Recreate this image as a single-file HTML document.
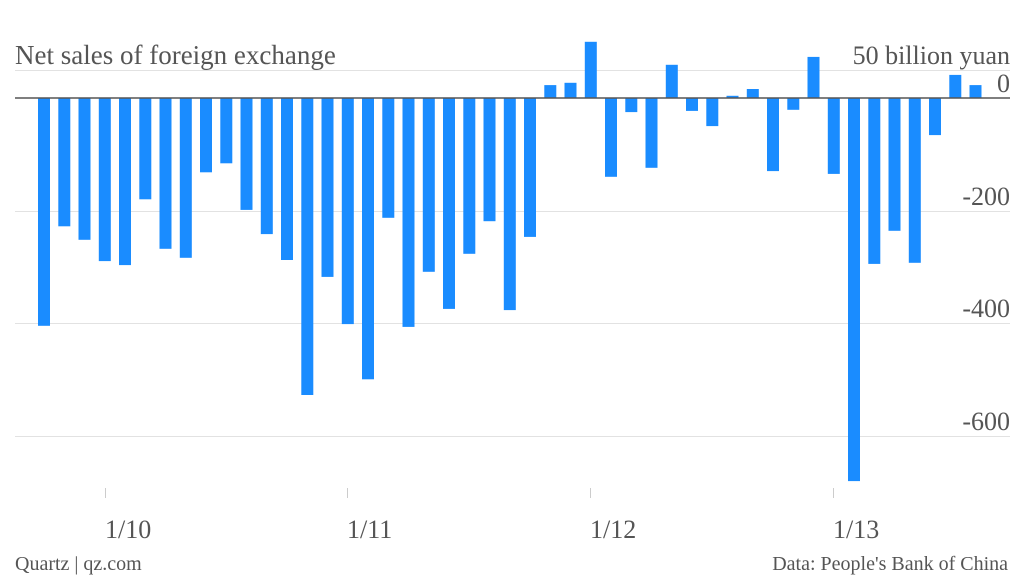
<!DOCTYPE html>
<html><head><meta charset="utf-8"><style>
body{margin:0;background:#fff;width:1024px;height:577px;overflow:hidden}
text{font-family:"Liberation Serif",serif;fill:#555}
</style></head><body>
<svg width="1024" height="577" xmlns="http://www.w3.org/2000/svg">
<g stroke="#e2e2e2" stroke-width="1">
<line x1="15" x2="1010" y1="70.5" y2="70.5"/>
<line x1="15" x2="1010" y1="211.5" y2="211.5"/>
<line x1="15" x2="1010" y1="323.5" y2="323.5"/>
<line x1="15" x2="1010" y1="436.5" y2="436.5"/>
</g>
<g stroke="#ccc"><line x1="105.5" x2="105.5" y1="488" y2="498"/><line x1="347.5" x2="347.5" y1="488" y2="498"/><line x1="590.5" x2="590.5" y1="488" y2="498"/><line x1="833.5" x2="833.5" y1="488" y2="498"/></g>
<g id="bars" fill="#1a8cff"></g>
<line x1="15" x2="1010" y1="98" y2="98" stroke="#555" stroke-width="1.5"/>
<text x="15" y="64" font-size="27">Net sales of foreign exchange</text>
<g font-size="26" text-anchor="end">
<text x="1010" y="64">50 billion yuan</text>
<text x="1010" y="92">0</text>
<text x="1010" y="205">-200</text>
<text x="1010" y="317">-400</text>
<text x="1010" y="430">-600</text>
</g>
<g font-size="26">
<text x="105" y="538">1/10</text>
<text x="347" y="538">1/11</text>
<text x="590" y="538">1/12</text>
<text x="833" y="538">1/13</text>
</g>
<text x="15" y="570" font-size="20">Quartz | qz.com</text>
<text x="1008" y="570" font-size="20" text-anchor="end">Data: People's Bank of China</text>
</svg>
<script>
var v=[-405,-228,-252,-290,-297,-180,-268,-284,-132,-116,-199,-242,-288,-528,-318,-402,-500,-213,-407,-309,-375,-277,-219,-377,-247,23,27,100,-140,-25,-124,59,-23,-50,4,16,-130,-21,73,-135,-681,-295,-236,-293,-66,41,23];
var g=document.getElementById('bars'),s='';
v.forEach(function(d,i){var x=38+i*20.25,h=Math.abs(d)*0.5625,y=d<0?98:98-h;
s+='<rect x="'+x.toFixed(1)+'" y="'+y.toFixed(1)+'" width="12" height="'+h.toFixed(1)+'"/>';});
g.innerHTML=s;
</script>
</body></html>
